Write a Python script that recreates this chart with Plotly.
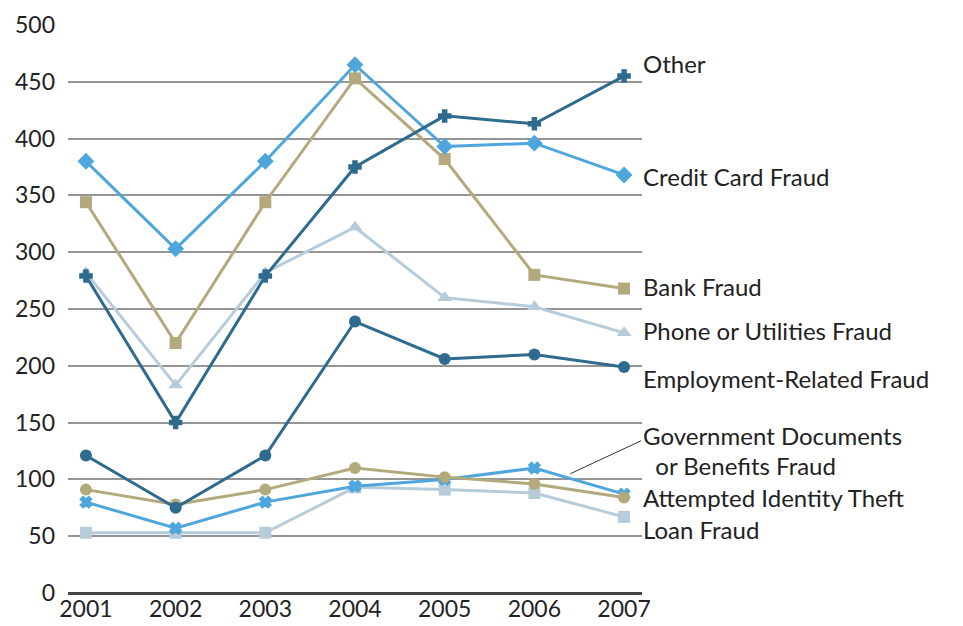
import plotly.graph_objects as go

years = [2001, 2002, 2003, 2004, 2005, 2006, 2007]
other = [279, 150, 279, 375, 420, 413, 455]
credit_card = [380, 303, 380, 465, 393, 396, 368]
bank = [344, 220, 344, 453, 382, 280, 268]
phone = [282, 183, 282, 322, 260, 252, 229]
employment = [121, 75, 121, 239, 206, 210, 199]
gov_docs = [80, 57, 80, 94, 100, 110, 87]
attempted = [91, 78, 91, 110, 102, 96, 84]
loan = [53, 53, 53, 93, 91, 88, 67]

DARK = "#2f6b8f"
LIGHT = "#4fa6dc"
TAN = "#b3a97c"
PALE = "#b7ccdb"

series = [
    ("Loan Fraud", loan, PALE, "square", 12),
    ("Government Documents or Benefits Fraud", gov_docs, LIGHT, "x", 10),
    ("Attempted Identity Theft", attempted, TAN, "circle", 12),
    ("Employment-Related Fraud", employment, DARK, "circle", 12),
    ("Phone or Utilities Fraud", phone, PALE, "triangle-up", 13),
    ("Bank Fraud", bank, TAN, "square", 12),
    ("Credit Card Fraud", credit_card, LIGHT, "diamond", 13),
    ("Other", other, DARK, "cross", 10),
]

labels = ["Other", "Credit Card Fraud", "Bank Fraud", "Phone or Utilities Fraud",
          "Employment-Related Fraud", "Government Documents", "  or Benefits Fraud",
          "Attempted Identity Theft", "Loan Fraud"]
label_y = [466, 367, 270, 231, 189, 139, 112, 84, 56]

FONT = "Lato"
fig = go.Figure()
for name, vals, color, sym, size in series:
    fig.add_trace(go.Scatter(
        x=years, y=vals, mode="lines+markers", name=name,
        line=dict(color=color, width=3),
        marker=dict(symbol=sym, size=size, color=color,
                    line=dict(width=1.5 if sym in ("x", "cross") else 0, color=color)),
        cliponaxis=False,
    ))

for txt, yv in zip(labels, label_y):
    fig.add_annotation(x=1, xref="paper", y=yv, yref="y", text=txt.replace("  ", "&nbsp;&nbsp;"),
                       showarrow=False, xanchor="left", yanchor="middle", align="left",
                       borderpad=0,
                       font=dict(family=FONT, size=24, color="#222222"))

fig.add_shape(type="line", xref="x", yref="y", x0=2006.4, y0=105, x1=2007.19, y1=134,
              line=dict(color="#333333", width=1))

fig.update_layout(
    width=963, height=626,
    margin=dict(l=68, r=321, t=25, b=33),
    plot_bgcolor="white", paper_bgcolor="white",
    showlegend=False,
    font=dict(family=FONT, size=23, color="#222222"),
    xaxis=dict(range=[2000.8, 2007.2], tickmode="array", tickvals=years,
               ticktext=[str(y) for y in years], showgrid=False, zeroline=False,
               showline=False, ticks="", automargin=False,
               tickfont=dict(family=FONT, size=23)),
    yaxis=dict(range=[0, 500], tickmode="array", tickvals=list(range(0, 501, 50)),
               showgrid=True, gridcolor="#959595", gridwidth=1.5,
               zeroline=True, zerolinecolor="#444444", zerolinewidth=2.5,
               ticks="", ticklabelstandoff=12, automargin=False,
               tickfont=dict(family=FONT, size=23)),
)

fig.write_html("out.html")
